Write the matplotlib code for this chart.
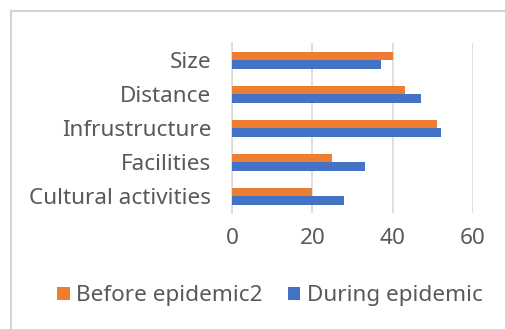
import matplotlib.pyplot as plt
import numpy as np
from matplotlib.lines import Line2D

categories = ['Size', 'Distance', 'Infrustructure', 'Facilities', 'Cultural activities']
before = [40, 43, 51, 25, 20]
during = [37, 47, 52, 33, 28]
series_names = ['Before epidemic2', 'During epidemic']
xticks = [0, 20, 40, 60]

ORANGE = '#ED7D31'
BLUE = '#4472C4'
TEXT = '#595959'
GRID = '#D9D9D9'

plt.rcParams['font.family'] = ['Noto Sans', 'DejaVu Sans']

fig = plt.figure(figsize=(5.06, 3.29), dpi=100)
ax = fig.add_axes([232 / 506, 1 - 213 / 329, (473 - 232) / 506, (213 - 43) / 329])

y = np.arange(len(categories))
h = 0.25
ax.barh(y - h / 2, before, height=h, color=ORANGE, label=series_names[0], zorder=3)
ax.barh(y + h / 2, during, height=h, color=BLUE, label=series_names[1], zorder=3)

ax.set_ylim(len(categories) - 0.5, -0.5)
ax.set_xlim(0, 60)
ax.set_yticks(y)
ax.set_yticklabels(categories)
ax.set_xticks(xticks)

ax.grid(axis='x', color=GRID, linewidth=1.2, zorder=0)
for side in ['top', 'right', 'bottom']:
    ax.spines[side].set_visible(False)
ax.spines['left'].set_color(GRID)
ax.spines['left'].set_linewidth(1.2)
ax.tick_params(axis='both', length=0, labelsize=16.2, colors=TEXT)
ax.tick_params(axis='y', pad=15)
ax.tick_params(axis='x', pad=11)

fig.legend(loc='center', bbox_to_anchor=(270 / 506, 1 - 296 / 329), ncol=2, frameon=False,
           fontsize=16.2, labelcolor=TEXT, handlelength=0.55, handleheight=0.55,
           handletextpad=0.3, columnspacing=1.1)

# outer chart frame (top and left edges)
fig.add_artist(Line2D([11 / 506, 1], [1 - 11 / 329, 1 - 11 / 329], color='#D3D3D3', linewidth=1.5))
fig.add_artist(Line2D([11 / 506, 11 / 506], [0, 1 - 11 / 329], color='#D3D3D3', linewidth=1.5))

fig.savefig('out.png', dpi=100)
